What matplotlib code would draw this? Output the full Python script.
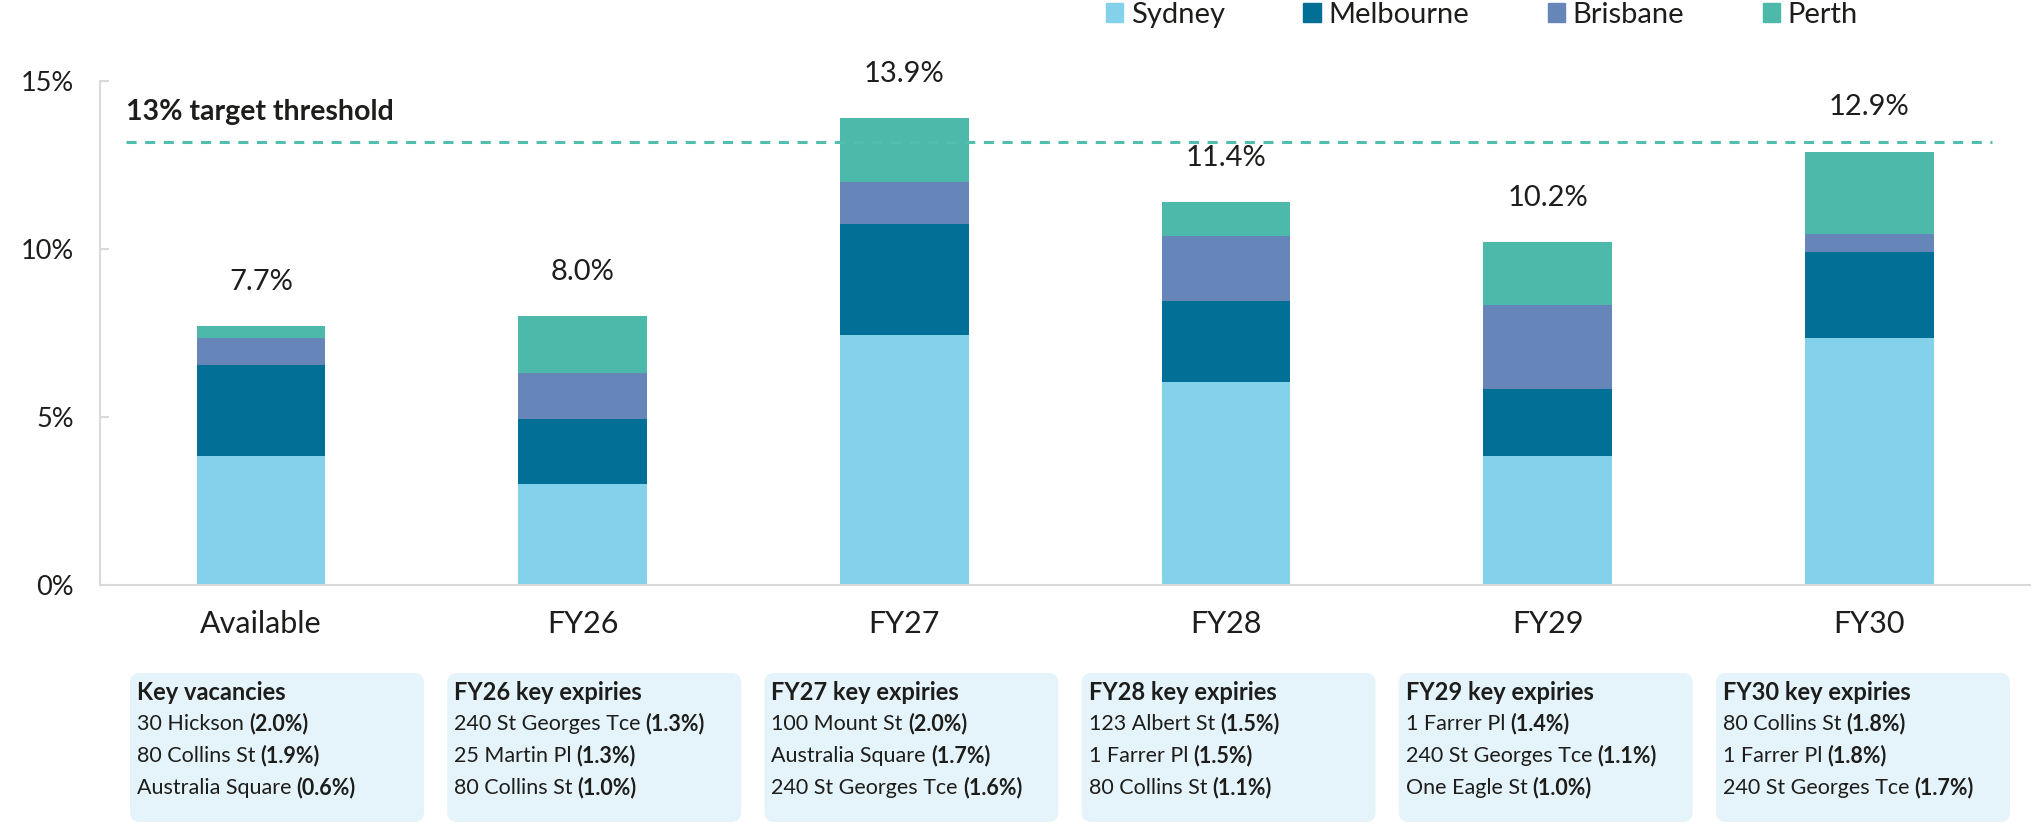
import matplotlib.pyplot as plt
from matplotlib.patches import FancyBboxPatch, Patch
from matplotlib.transforms import blended_transform_factory

plt.rcParams['font.family'] = ['Lato', 'DejaVu Sans']

# Dados
categorias = ['Available', 'FY26', 'FY27', 'FY28', 'FY29', 'FY30']
sydney = [3.85, 3.0, 7.45, 6.05, 3.85, 7.35]
melbourne = [2.7, 1.95, 3.3, 2.4, 2.0, 2.55]
brisbane = [0.8, 1.35, 1.25, 1.95, 2.5, 0.55]
perth = [0.35, 1.7, 1.9, 1.0, 1.85, 2.45]
totais = [7.7, 8.0, 13.9, 11.4, 10.2, 12.9]
limiar = 13.2
rotulo_limiar = '13% target threshold'
yticks = [0, 5, 10, 15]

titulos_caixas = ['Key vacancies', 'FY26 key expiries', 'FY27 key expiries',
                  'FY28 key expiries', 'FY29 key expiries', 'FY30 key expiries']
imoveis = [
    ['30 Hickson', '80 Collins St', 'Australia Square'],
    ['240 St Georges Tce', '25 Martin Pl', '80 Collins St'],
    ['100 Mount St', 'Australia Square', '240 St Georges Tce'],
    ['123 Albert St', '1 Farrer Pl', '80 Collins St'],
    ['1 Farrer Pl', '240 St Georges Tce', 'One Eagle St'],
    ['80 Collins St', '1 Farrer Pl', '240 St Georges Tce'],
]
percentuais = [
    ['(2.0%)', '(1.9%)', '(0.6%)'],
    ['(1.3%)', '(1.3%)', '(1.0%)'],
    ['(2.0%)', '(1.7%)', '(1.6%)'],
    ['(1.5%)', '(1.5%)', '(1.1%)'],
    ['(1.4%)', '(1.1%)', '(1.0%)'],
    ['(1.8%)', '(1.8%)', '(1.7%)'],
]

series = [('Sydney', sydney, '#83d1eb'),
          ('Melbourne', melbourne, '#026f96'),
          ('Brisbane', brisbane, '#6686ba'),
          ('Perth', perth, '#4db9aa')]

cor_texto = '#1d1d1b'
cor_eixo = '#d9d9d9'

fig = plt.figure(figsize=(20.34, 8.24), dpi=100)

# Camada de fundo em pixels para as caixas de texto
ov = fig.add_axes([0, 0, 1, 1], zorder=-1)
ov.set_xlim(0, 2034)
ov.set_ylim(824, 0)
ov.axis('off')

ax = fig.add_axes([0.0492, 0.2897, 0.9489, 0.612])
ax.set_facecolor('none')

x = list(range(len(categorias)))
base = [0] * len(categorias)
for nome, vals, cor in series:
    ax.bar(x, vals, 0.4, bottom=base, color=cor, linewidth=0, label=nome)
    base = [b + v for b, v in zip(base, vals)]

for i, tot in enumerate(totais):
    ax.annotate(f'{tot:.1f}%', xy=(i, tot), xytext=(0, 32), textcoords='offset points',
                ha='center', va='center', fontsize=21, color=cor_texto)

# Linha da meta
ax.axhline(limiar, xmin=0.0135, xmax=0.98, color='#52bfae', lw=2.2, dashes=(3.3, 2.8))
trans = blended_transform_factory(ax.transAxes, ax.transData)
ax.annotate(rotulo_limiar, xy=(0.0135, limiar), xycoords=trans, xytext=(0, 21),
            textcoords='offset points', va='center', ha='left', fontsize=20.5,
            fontweight='bold', color=cor_texto)

ax.set_xlim(-0.5, 5.5)
ax.set_ylim(0, 15)
ax.set_xticks(x)
ax.set_xticklabels(categorias)
ax.set_yticks(yticks)
ax.set_yticklabels([f'{v}%' for v in yticks])
ax.tick_params(axis='x', length=0, pad=18, labelsize=22, labelcolor=cor_texto)
ax.tick_params(axis='y', direction='in', length=6.5, width=1.5, color=cor_eixo,
               pad=19, labelsize=19.5, labelcolor=cor_texto)
for lado in ['top', 'right']:
    ax.spines[lado].set_visible(False)
for lado in ['left', 'bottom']:
    ax.spines[lado].set_color(cor_eixo)
    ax.spines[lado].set_linewidth(1.5)

# Legenda no topo
handles = [Patch(color=cor, label=nome) for nome, _, cor in series]
fig.legend(handles=handles, loc='center', bbox_to_anchor=(0.7286, 1 - 15 / 824), ncol=4,
           frameon=False, fontsize=21, handlelength=0.6, handleheight=0.6,
           handletextpad=0.25, columnspacing=2.7, labelcolor=cor_texto)

# Caixas com os principais imóveis
renderer = fig.canvas.get_renderer()
for i, titulo in enumerate(titulos_caixas):
    esq = 130 + i * 317.2
    ov.add_patch(FancyBboxPatch((esq, 673), 294, 149,
                                boxstyle='round,pad=0,rounding_size=10',
                                fc='#e5f4fa', ec='none'))
    x0 = esq + 7
    ov.text(x0, 700, titulo, fontsize=17, fontweight='bold', va='baseline',
            color=cor_texto)
    for j, (nome, pct) in enumerate(zip(imoveis[i], percentuais[i])):
        yb = 730 + 32 * j
        t = ov.text(x0, yb, nome, fontsize=15.5, va='baseline', color=cor_texto)
        bb = t.get_window_extent(renderer)
        ov.text(bb.x1 + 5, yb, pct, fontsize=15.5, fontweight='bold', va='baseline',
                color=cor_texto)

plt.savefig('out.png', dpi=100)
